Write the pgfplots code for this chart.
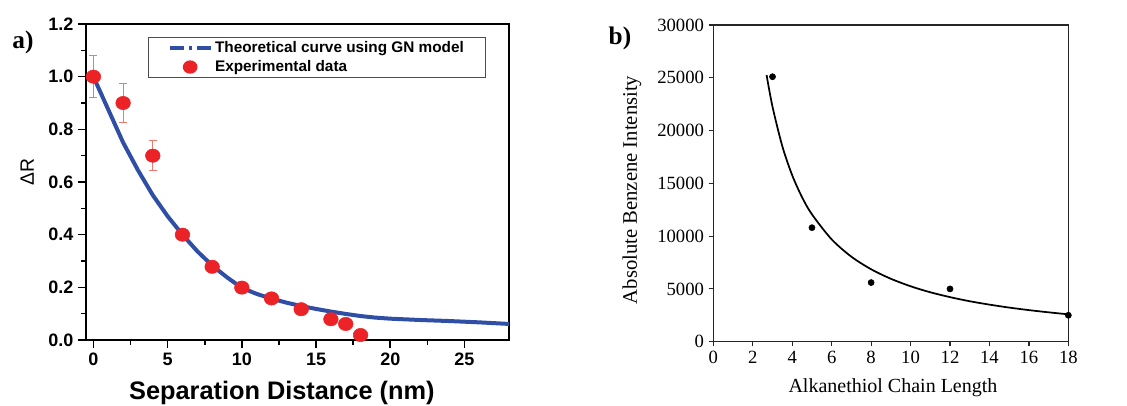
\documentclass[border=0pt]{standalone}
\usepackage{fontspec}
\setmainfont{Liberation Serif}
\newfontfamily\sansf{Liberation Sans}
\usepackage{pgfplots}
\pgfplotsset{compat=1.18}
\definecolor{gnblue}{HTML}{2F4FA6}
\definecolor{expred}{HTML}{EC2326}
\definecolor{errred}{HTML}{F07A6A}

\begin{document}
\begin{tikzpicture}
\useasboundingbox (0pt,0pt) rectangle (845.25pt,303.75pt);

% panel letters
\node[font=\bfseries\fontsize{19}{19}\selectfont] at (17.25pt,272.25pt) {a)};
\node[font=\bfseries\fontsize{19}{19}\selectfont] at (465pt,275.25pt) {b)};

% ---------------- panel a ----------------
\begin{axis}[
  at={(64.5pt,48.75pt)}, anchor=south west,
  scale only axis, width=317.25pt, height=237pt,
  xmin=-0.5, xmax=28, ymin=0, ymax=1.2,
  xtick={0,5,10,15,20,25}, ytick={0,0.2,0.4,0.6,0.8,1.0,1.2},
  minor x tick num=1, minor y tick num=1,
  xtick pos=bottom, ytick pos=left, tick align=outside,
  major tick length=6pt, minor tick length=3.5pt,
  axis line style={line width=1.4pt},
  every tick/.style={line width=1.2pt, black},
  /pgf/number format/assume math mode=true,
  tick label style={font=\sansf\bfseries\fontsize{13.5}{14}\selectfont},
  yticklabel style={/pgf/number format/fixed, /pgf/number format/fixed zerofill,
                    /pgf/number format/precision=1},
  xlabel={Separation Distance (nm)},
  xlabel style={at={(axis description cs:0.463,-0.168)}, anchor=center,
                font=\sansf\bfseries\fontsize{19}{20}\selectfont},
  ylabel={ΔR},
  ylabel style={at={(axis description cs:-0.139,0.532)}, anchor=center,
                font=\sansf\fontsize{14.5}{15}\selectfont},
  clip mode=individual,
  legend cell align=left,
  legend style={at={(axis description cs:0.1466,0.959)}, anchor=north west,
                draw=black!70, line width=0.8pt, fill=white,
                inner xsep=15pt, inner ysep=1.4pt, row sep=1.25pt,
                font=\sansf\bfseries\fontsize{11.5}{12}\selectfont,
                nodes={text height=8.5pt, text depth=2.5pt, inner ysep=1pt, inner xsep=1.5pt},
                /tikz/every even column/.append style={column sep=0pt}},
]
\addplot[gnblue, line width=3pt,
  legend image code/.code={
    \draw[gnblue, line width=2.4pt] (0pt,0pt) -- (10.5pt,0pt);
    \draw[gnblue, line width=2.4pt] (14.3pt,0pt) -- (16.7pt,0pt);
    \draw[gnblue, line width=2.4pt] (20.5pt,0pt) -- (31pt,0pt);
  }] coordinates {
  (0,1.0) (1,0.875) (2,0.75) (3,0.645) (4,0.55) (5,0.47) (6,0.40)
  (7,0.337) (8,0.283) (9,0.238) (10,0.198) (11,0.175) (12,0.157)
  (13,0.142) (14,0.129) (15,0.118) (16,0.108) (17,0.099) (18,0.091)
  (19,0.085) (20,0.081) (22,0.076) (24,0.072) (26,0.067) (28,0.061)
};
\addlegendentry{Theoretical curve using GN model}

\addplot[only marks, mark=*, mark size=5pt,
  mark options={fill=expred, draw=expred, xscale=1.1},
  legend image code/.code={
    \path[draw=none] (0pt,0pt) -- (31pt,0pt);
    \fill[expred, draw=none] (15pt,0pt) ellipse [x radius=5.5pt, y radius=5pt];
  },
  error bars/.cd, y dir=both, y explicit,
  error bar style={errred, line width=0.7pt},
  error mark options={rotate=90, errred, mark size=3pt, line width=0.7pt}]
  coordinates {
  (0,1.0) +- (0,0.08)
  (2,0.9) +- (0,0.073)
  (4,0.7) +- (0,0.056)
};
\addlegendentry{Experimental data}

\addplot[only marks, mark=*, mark size=5pt,
  mark options={fill=expred, draw=expred, xscale=1.1}, forget plot]
  coordinates {
  (6,0.40) (8,0.278) (10,0.199) (12,0.158) (14,0.117) (16,0.079) (17,0.061) (18,0.019)
};
\end{axis}

% ---------------- panel b ----------------
\begin{axis}[
  at={(535pt,47.5pt)}, anchor=south west,
  scale only axis, width=266.25pt, height=237.5pt,
  xmin=0, xmax=18, ymin=0, ymax=30000,
  xtick={0,2,4,6,8,10,12,14,16,18},
  ytick={0,5000,10000,15000,20000,25000,30000},
  xtick pos=bottom, ytick pos=left, tick align=outside,
  major tick length=3.5pt,
  axis line style={line width=0.9pt, black!85},
  every tick/.style={line width=0.9pt, black!85},
  scaled y ticks=false,
  /pgf/number format/assume math mode=true,
  yticklabel style={/pgf/number format/1000 sep={}},
  tick label style={font=\fontsize{14}{15}\selectfont},
  xlabel={Alkanethiol Chain Length},
  xlabel style={at={(axis description cs:0.506,-0.146)}, anchor=center,
                font=\fontsize{15}{16}\selectfont},
  ylabel={Absolute Benzene Intensity},
  ylabel style={at={(axis description cs:-0.229,0.479)}, anchor=center,
                font=\fontsize{15.5}{16}\selectfont},
  clip=false,
]
\addplot[black, line width=1.3pt, smooth] coordinates {
  (2.7,25260) (3,22260) (3.5,18500) (4,15760) (4.5,13680) (5,12060)
  (6,9690) (7,8050) (8,6860) (9,5960) (10,5250) (11,4680) (12,4220)
  (13,3830) (14,3510) (15,3230) (16,2990) (17,2780) (18,2590)
};
\addplot[only marks, mark=*, mark size=2.3pt, black] coordinates {
  (3,25100) (5,10800) (8,5600) (12,5000) (18,2500)
};
\end{axis}
\end{tikzpicture}
\end{document}
